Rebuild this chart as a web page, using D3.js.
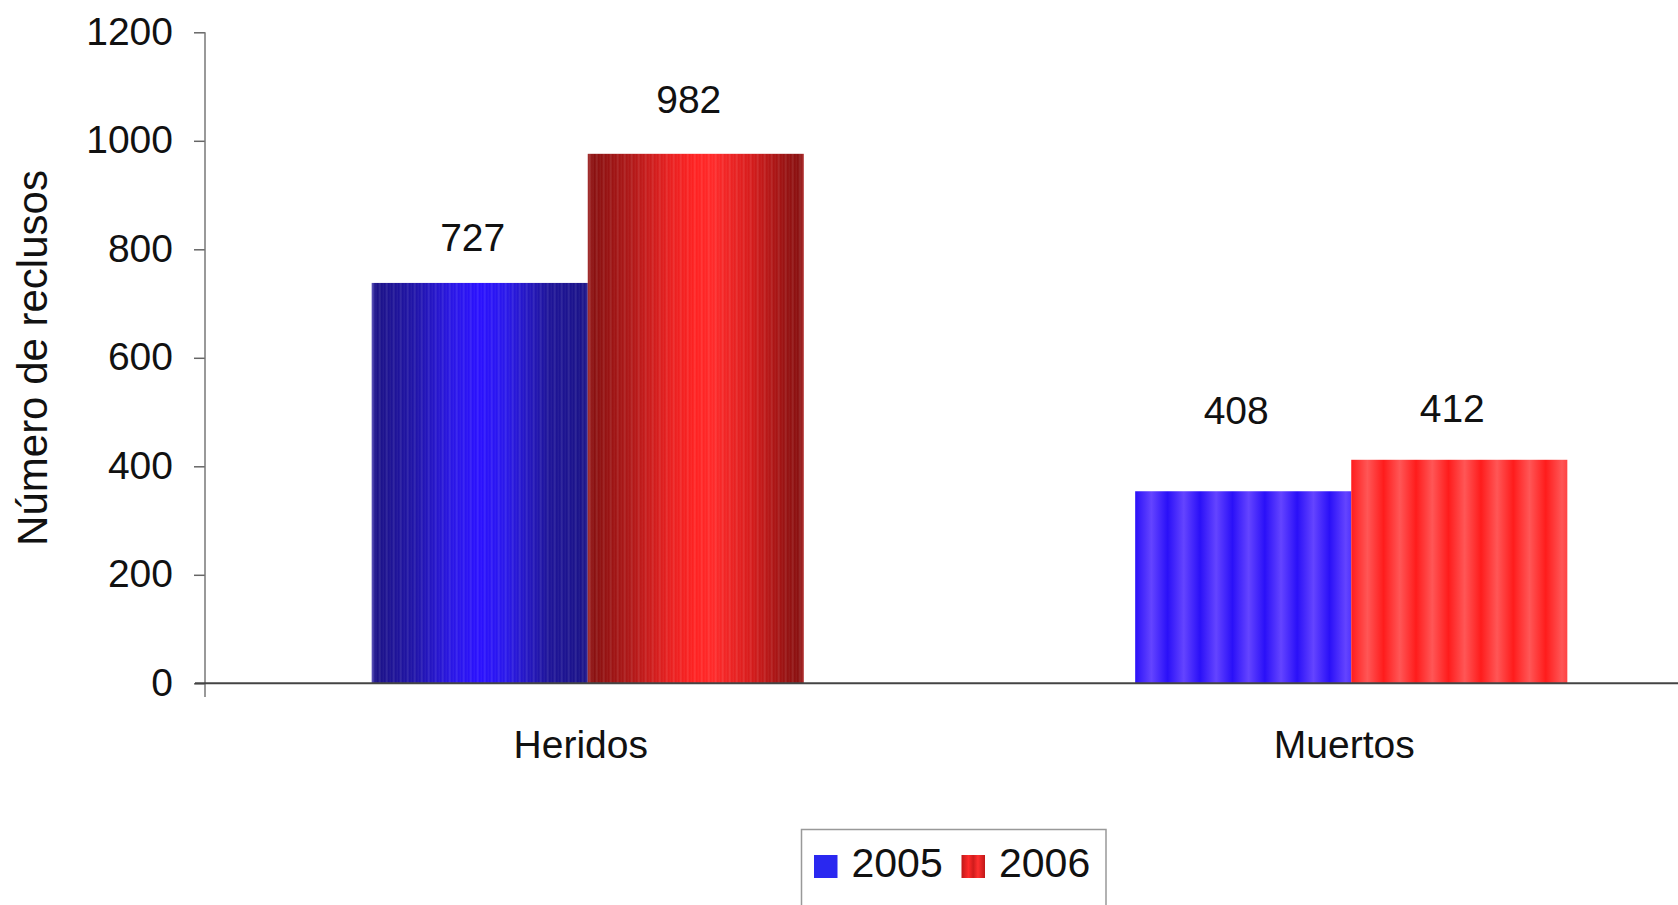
<!DOCTYPE html>
<html><head><meta charset="utf-8">
<script src="https://cdn.jsdelivr.net/npm/d3@7"></script>
<style>html,body{margin:0;padding:0;background:#fff;overflow:hidden}</style>
</head><body>
<script>
// ---- data ----
const categories = ["Heridos", "Muertos"];
const series = ["2005", "2006"];
// bar heights as drawn in the picture
const values2005 = [738, 354];
const values2006 = [976, 412];
// printed data labels
const labels2005 = [727, 408];
const labels2006 = [982, 412];
const yTicks = [0, 200, 400, 600, 800, 1000, 1200];
const yTitle = "Número de reclusos";

const W = 1678, H = 905;
const FONT = "'Liberation Sans', Arial, Helvetica, sans-serif";

const svg = d3.select("body").append("svg").attr("width", W).attr("height", H)
  .style("font-family", FONT);
const defs = svg.append("defs");

function grad(id, stops, opts = {}) {
  const g = defs.append("linearGradient").attr("id", id)
    .attr("x1", 0).attr("y1", 0).attr("x2", opts.x2 ?? 1).attr("y2", 0);
  if (opts.repeat) g.attr("spreadMethod", "repeat");
  stops.forEach(([o, c]) => g.append("stop").attr("offset", o).attr("stop-color", c));
}
grad("h2005", [[0,"#4a40b0"],[0.02,"#1c1288"],[0.2,"#2014a8"],[0.38,"#2a16e8"],[0.5,"#2a10ff"],[0.62,"#2a18ea"],[0.82,"#1e1498"],[0.98,"#1a1288"],[1,"#2a2090"]]);
grad("h2006", [[0,"#a02828"],[0.03,"#8a1010"],[0.2,"#b01818"],[0.38,"#e82020"],[0.5,"#ff2222"],[0.58,"#ff2a2a"],[0.75,"#d81c1c"],[0.92,"#961212"],[0.98,"#8a1010"],[1,"#b03030"]]);
grad("m2005", [[0,"#2a10f8"],[0.5,"#6444ff"],[1,"#2a10f8"]], {repeat:true, x2:0.15});
grad("m2006", [[0,"#ff1c1c"],[0.5,"#ff5656"],[1,"#ff1c1c"]], {repeat:true, x2:0.15});
grad("leg2006", [[0,"#c01818"],[0.3,"#ff2a2a"],[0.5,"#d01c1c"],[0.7,"#ff3030"],[1,"#c01818"]]);
const stripe = defs.append("pattern").attr("id","stripes").attr("patternUnits","userSpaceOnUse")
  .attr("width", 7).attr("height", 10);
stripe.append("rect").attr("x", 0).attr("width", 2).attr("height", 10).attr("fill", "#fff").attr("opacity", 0.09);
stripe.append("rect").attr("x", 4).attr("width", 1).attr("height", 10).attr("fill", "#fff").attr("opacity", 0.06);

const fills = {
  "Heridos-2005": "url(#h2005)", "Heridos-2006": "url(#h2006)",
  "Muertos-2005": "url(#m2005)", "Muertos-2006": "url(#m2006)"
};

// ---- scales ----
const y = d3.scaleLinear().domain([0, 1200]).range([683.3, 32.3]);
const x0 = d3.scaleBand().domain(categories).range([206, 1733]).paddingInner(0.434).paddingOuter(0.217);
const x1 = d3.scaleBand().domain(series).range([0, x0.bandwidth()]);

const rows = categories.map((c, i) => ({
  cat: c,
  bars: [
    {s: "2005", v: values2005[i], lab: labels2005[i]},
    {s: "2006", v: values2006[i], lab: labels2006[i]}
  ]
}));

// ---- bars ----
const g = svg.append("g");
const groups = g.selectAll("g.cat").data(rows).join("g")
  .attr("transform", d => `translate(${x0(d.cat)},0)`);
groups.each(function(d) {
  const sel = d3.select(this);
  d.bars.forEach(b => {
    sel.append("rect").attr("x", x1(b.s)).attr("y", y(b.v))
      .attr("width", x1.bandwidth()).attr("height", y(0) - y(b.v))
      .attr("fill", fills[d.cat + "-" + b.s]);
    if (d.cat === "Heridos") {
      sel.append("rect").attr("x", x1(b.s)).attr("y", y(b.v))
        .attr("width", x1.bandwidth()).attr("height", y(0) - y(b.v))
        .attr("fill", "url(#stripes)");
    }
    sel.append("text").attr("x", x1(b.s) + x1.bandwidth() / 2 - 7)
      .attr("y", y(b.lab) - 38).attr("text-anchor", "middle")
      .attr("font-size", 39).attr("fill", "#111").text(b.lab);
  });
});

// ---- axes ----
const yAxis = svg.append("g").attr("transform", "translate(205,0)")
  .call(d3.axisLeft(y).tickValues(yTicks).tickFormat(d3.format("d")).tickSize(11).tickPadding(21));
yAxis.select(".domain").remove();
yAxis.selectAll(".tick line").attr("stroke", "#666").attr("stroke-width", 1.5);
yAxis.selectAll(".tick text").attr("font-size", 39).attr("font-family", FONT).attr("fill", "#111").attr("dy", "0.3em");
svg.append("line").attr("x1", 205).attr("x2", 205).attr("y1", y(1200)).attr("y2", 697)
  .attr("stroke", "#777").attr("stroke-width", 1.5);
svg.append("line").attr("x1", 195).attr("x2", W).attr("y1", y(0)).attr("y2", y(0))
  .attr("stroke", "#444").attr("stroke-width", 2);

// category labels
svg.selectAll("text.cat").data(categories).join("text").attr("class", "cat")
  .attr("x", d => x0(d) + x0.bandwidth() / 2 - 7).attr("y", 758)
  .attr("text-anchor", "middle").attr("font-size", 39).attr("fill", "#111").text(d => d);

// y title
svg.append("text").attr("transform", "translate(47,358) rotate(-90)")
  .attr("text-anchor", "middle").attr("font-size", 42).attr("fill", "#111").text(yTitle);

// ---- legend ----
const leg = svg.append("g");
leg.append("rect").attr("x", 801.5).attr("y", 829.5).attr("width", 304.5).attr("height", 110)
  .attr("fill", "#fff").attr("stroke", "#999").attr("stroke-width", 1.5);
const legFills = ["#2a28f0", "url(#leg2006)"];
const legX = [814, 961.5];
series.forEach((s, i) => {
  leg.append("rect").attr("x", legX[i]).attr("y", 855).attr("width", 23.5).attr("height", 23)
    .attr("fill", legFills[i]);
  leg.append("text").attr("x", legX[i] + 37.5).attr("y", 876.5).attr("font-size", 41)
    .attr("fill", "#111").text(s);
});
</script>
</body></html>
